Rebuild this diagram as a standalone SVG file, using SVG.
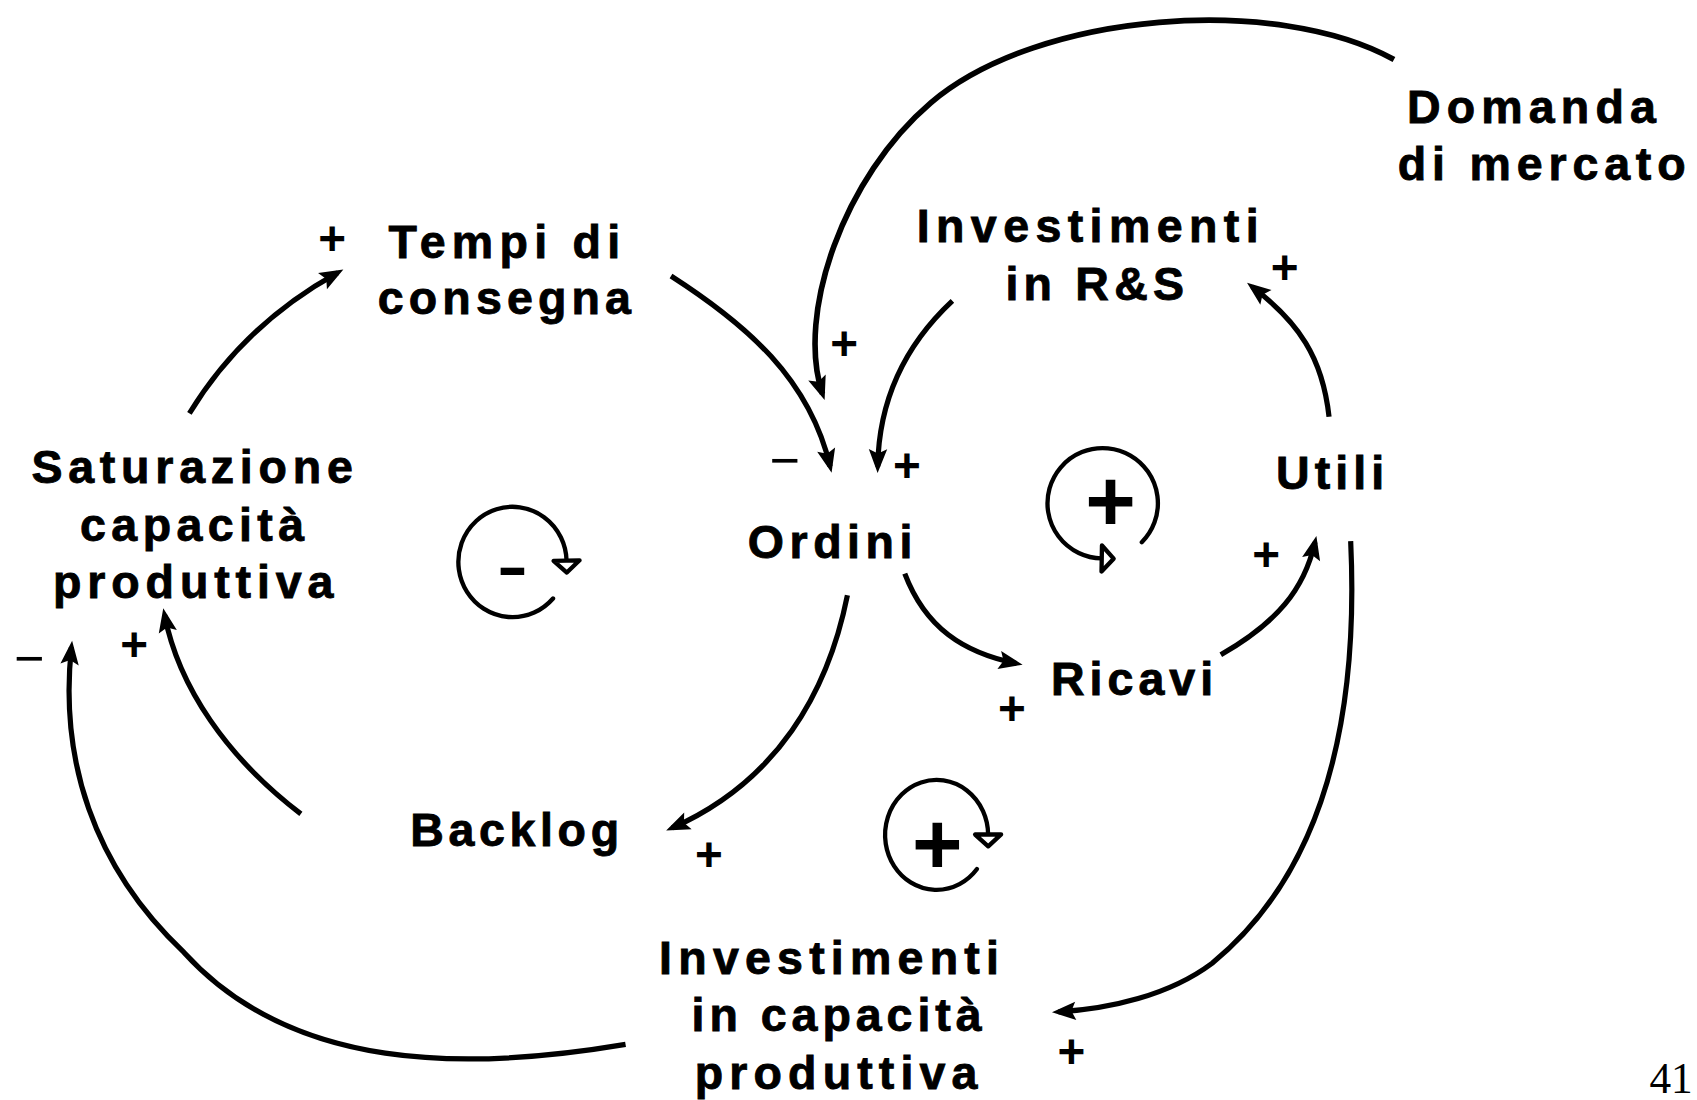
<svg xmlns="http://www.w3.org/2000/svg" width="1697" height="1100" viewBox="0 0 1697 1100">
  <style>
    .node { font-family: "Liberation Sans", Arial, sans-serif; font-weight: bold; font-size: 43px; text-anchor: middle; fill: #000; stroke: #000; stroke-width: 0.8px; }
    .sign { font-family: "Liberation Sans", Arial, sans-serif; font-weight: bold; font-size: 44px; text-anchor: middle; fill: #000; }
    .minus { font-family: "Liberation Sans", Arial, sans-serif; font-weight: normal; font-size: 48px; text-anchor: middle; fill: #000; }
    .loopsign { font-family: "Liberation Sans", Arial, sans-serif; font-weight: bold; text-anchor: middle; fill: #000; }
    .link { fill: none; stroke: #000; stroke-width: 4.8; marker-end: url(#head); }
    .loop { fill: none; stroke: #000; stroke-width: 4; stroke-linecap: round; marker-end: url(#loopHead); }
    .page { font-family: "Liberation Serif", "Times New Roman", serif; font-size: 40px; text-anchor: middle; fill: #000; }
  </style>
  <defs>
    <!-- solid head for causal links -->
    <marker id="head" markerUnits="userSpaceOnUse" orient="auto" refX="0" refY="0" overflow="visible">
      <path d="M-16,-8.5 L6,0 L-16,8.5 L-12,0 z" fill="#000"/>
    </marker>
    <!-- hollow head for loop identifiers -->
    <marker id="loopHead" markerUnits="userSpaceOnUse" orient="auto" refX="0" refY="0" overflow="visible">
      <path d="M0,-12 L11,0 L0,12 z" fill="#fff" stroke="#000" stroke-width="4" stroke-linejoin="round"/>
    </marker>
  </defs>
  <rect width="1697" height="1100" fill="#fff"/>

  <g transform="scale(1.08227)">
    <!-- causal links -->
    <g id="connectors">
      <path class="link" d="M175,382 Q225,300 312,252"/>
      <path class="link" d="M620,255 C690,300 748,350 767,431"/>
      <path class="link" d="M880,278 C835,320 812,370 811,431"/>
      <path class="link" style="stroke-width:5.2" d="M1288,55 C1180,-5 960,10 860,95 C780,163 735,290 760,364"/>
      <path class="link" d="M836,530 C855,580 890,603 939,613"/>
      <path class="link" d="M1128,605 C1180,575 1205,545 1215,501"/>
      <path class="link" d="M1228,385 C1222,330 1200,298 1157,265"/>
      <path class="link" d="M1248,500 C1255,650 1230,800 1120,890 C1080,920 1025,932 978,935"/>
      <path class="link" d="M783,550 C765,640 718,722 621,765"/>
      <path class="link" d="M278,752 C210,700 165,635 152,568"/>
      <path class="link" d="M578,965 C430,990 270,990 170,880 C85,800 55,700 66,598"/>
    </g>

    <!-- link polarities -->
    <g id="polarities">
      <text class="sign" x="307" y="236">+</text>
      <text class="sign" x="780" y="333">+</text>
      <text class="sign" x="838" y="445">+</text>
      <text class="sign" x="1187" y="262">+</text>
      <text class="sign" x="1170" y="528">+</text>
      <text class="sign" x="935" y="670">+</text>
      <text class="sign" x="655" y="805">+</text>
      <text class="sign" x="990" y="987">+</text>
      <text class="sign" x="124" y="611">+</text>
      <text class="minus" x="725" y="442">−</text>
      <text class="minus" x="27" y="625">−</text>
    </g>

    <!-- loop identifiers -->
    <g id="loop-balancing">
      <path class="loop" d="M511,553 A50,51 0 1 1 523.5,518"/>
      <text class="loopsign" transform="translate(473.5,527) scale(1.3,0.85)" x="0" y="18" font-size="66">-</text>
    </g>
    <g id="loop-rs">
      <path class="loop" d="M1055,501 A51,51 0 1 0 1018,516"/>
      <text class="loopsign" x="1026" y="491" font-size="80">+</text>
    </g>
    <g id="loop-capacity">
      <path class="loop" d="M902.7,803 A47.6,50.8 0 1 1 913,771"/>
      <text class="loopsign" x="866" y="808" font-size="80">+</text>
    </g>

    <!-- variables -->
    <g id="domanda-mercato">
      <text class="node" x="1415" y="114" textLength="230" lengthAdjust="spacing">Domanda</text>
      <text class="node" x="1424.5" y="166" textLength="266" lengthAdjust="spacing">di mercato</text>
    </g>
    <g id="investimenti-rs">
      <text class="node" x="1005" y="224" textLength="316" lengthAdjust="spacing">Investimenti</text>
      <text class="node" x="1011.5" y="277" textLength="165" lengthAdjust="spacing">in R&amp;S</text>
    </g>
    <g id="tempi-consegna">
      <text class="node" x="466" y="238" textLength="214" lengthAdjust="spacing">Tempi di</text>
      <text class="node" x="466" y="290" textLength="234" lengthAdjust="spacing">consegna</text>
    </g>
    <g id="saturazione-capacita">
      <text class="node" x="177.5" y="446" textLength="297" lengthAdjust="spacing">Saturazione</text>
      <text class="node" x="177.5" y="500" textLength="207" lengthAdjust="spacing">capacità</text>
      <text class="node" x="178.5" y="553" textLength="259" lengthAdjust="spacing">produttiva</text>
    </g>
    <g id="ordini">
      <text class="node" x="767" y="516" textLength="152" lengthAdjust="spacing">Ordini</text>
    </g>
    <g id="utili">
      <text class="node" x="1229" y="452" textLength="100" lengthAdjust="spacing">Utili</text>
    </g>
    <g id="ricavi">
      <text class="node" x="1046" y="642" textLength="150" lengthAdjust="spacing">Ricavi</text>
    </g>
    <g id="backlog">
      <text class="node" x="475.5" y="782" textLength="193" lengthAdjust="spacing">Backlog</text>
    </g>
    <g id="investimenti-capacita">
      <text class="node" x="766" y="900" textLength="314" lengthAdjust="spacing">Investimenti</text>
      <text class="node" x="773" y="953" textLength="268" lengthAdjust="spacing">in capacità</text>
      <text class="node" x="772.5" y="1006" textLength="261" lengthAdjust="spacing">produttiva</text>
    </g>

    <text class="page" x="1544" y="1010">41</text>
  </g>
</svg>
